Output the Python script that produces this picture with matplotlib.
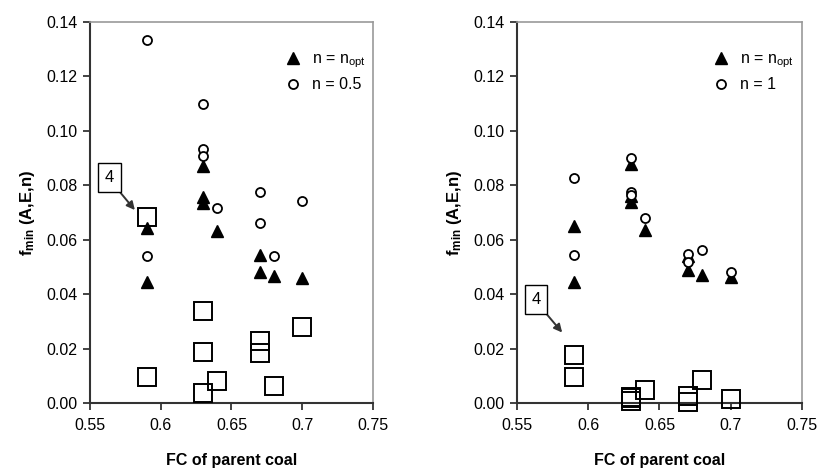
import matplotlib
matplotlib.use("Agg")
import matplotlib.pyplot as plt

plt.rcParams['font.family'] = ['Liberation Sans', 'DejaVu Sans']
plt.rcParams['mathtext.fontset'] = 'custom'
plt.rcParams['mathtext.rm'] = 'Liberation Sans'
plt.rcParams['mathtext.bf'] = 'Liberation Sans:bold'
plt.rcParams['mathtext.it'] = 'Liberation Sans:italic'

# ---- data: left panel (n_opt vs n = 0.5) ----
left_opt_x = [0.59, 0.59, 0.63, 0.63, 0.63, 0.64, 0.67, 0.67, 0.68, 0.70]
left_opt_y = [0.0642, 0.0443, 0.0870, 0.0758, 0.0734, 0.0632, 0.0544, 0.0483, 0.0467, 0.0460]
left_alt_x = [0.59, 0.59, 0.63, 0.63, 0.63, 0.64, 0.67, 0.67, 0.68, 0.70]
left_alt_y = [0.1334, 0.0541, 0.1100, 0.0932, 0.0908, 0.0718, 0.0774, 0.0663, 0.0541, 0.0742]
left_sq_x = [0.59, 0.59, 0.63, 0.63, 0.63, 0.64, 0.67, 0.67, 0.68, 0.70]
left_sq_y = [0.0685, 0.0094, 0.0339, 0.0189, 0.0036, 0.0082, 0.0228, 0.0183, 0.0064, 0.0278]

# ---- data: right panel (n_opt vs n = 1) ----
right_opt_x = [0.59, 0.59, 0.63, 0.63, 0.63, 0.64, 0.67, 0.67, 0.68, 0.70]
right_opt_y = [0.0650, 0.0445, 0.0879, 0.0760, 0.0738, 0.0635, 0.0541, 0.0487, 0.0469, 0.0462]
right_alt_x = [0.59, 0.59, 0.63, 0.63, 0.63, 0.64, 0.67, 0.67, 0.68, 0.70]
right_alt_y = [0.0825, 0.0543, 0.0901, 0.0775, 0.0765, 0.0680, 0.0549, 0.0519, 0.0562, 0.0481]
right_sq_x = [0.59, 0.59, 0.63, 0.63, 0.63, 0.64, 0.67, 0.67, 0.68, 0.70]
right_sq_y = [0.0175, 0.0096, 0.0022, 0.0019, 0.0009, 0.0046, 0.0027, 0.0002, 0.0084, 0.0015]

x_ticks = [0.55, 0.6, 0.65, 0.7, 0.75]
x_tick_labels = ['0.55', '0.6', '0.65', '0.7', '0.75']
y_ticks = [0.00, 0.02, 0.04, 0.06, 0.08, 0.10, 0.12, 0.14]
y_tick_labels = ['0.00', '0.02', '0.04', '0.06', '0.08', '0.10', '0.12', '0.14']
legend_labels_left = [r'n = n$_{\mathregular{opt}}$', 'n = 0.5']
legend_labels_right = [r'n = n$_{\mathregular{opt}}$', 'n = 1']
xlabel = 'FC of parent coal'
ylabel = r'$\mathbf{f_{min}}$ (A,E,n)'

fig = plt.figure(figsize=(8.2, 4.75), dpi=100)
ax1 = fig.add_axes([90/820, 72/475, 283/820, 381/475])
ax2 = fig.add_axes([517/820, 72/475, 285/820, 381/475])

panels = [
    (ax1, left_opt_x, left_opt_y, left_alt_x, left_alt_y, left_sq_x, left_sq_y,
     legend_labels_left, (0.5637, 0.0829), (0.5817, 0.0709)),
    (ax2, right_opt_x, right_opt_y, right_alt_x, right_alt_y, right_sq_x, right_sq_y,
     legend_labels_right, (0.5634, 0.0380), (0.5817, 0.0259)),
]

for ax, ox, oy, ax_, ay, sx, sy, labs, txy, axy in panels:
    ax.plot(sx, sy, linestyle='none', marker='s', markersize=12.5,
            markerfacecolor='none', markeredgecolor='black', markeredgewidth=1.4,
            clip_on=False, zorder=3)
    h1, = ax.plot(ox, oy, linestyle='none', marker='^', markersize=8.5,
                  color='black', clip_on=False, zorder=4)
    h2, = ax.plot(ax_, ay, linestyle='none', marker='o', markersize=6.5,
                  markerfacecolor='white', markeredgecolor='black', markeredgewidth=1.3,
                  clip_on=False, zorder=5)
    ax.set_xlim(0.55, 0.75)
    ax.set_ylim(0.0, 0.14)
    ax.set_xticks(x_ticks)
    ax.set_xticklabels(x_tick_labels)
    ax.set_yticks(y_ticks)
    ax.set_yticklabels(y_tick_labels)
    ax.tick_params(axis='both', direction='out', length=5, width=1.2,
                   labelsize=11.5, color='#222222', pad=4)
    ax.tick_params(axis='x', pad=6)
    for s in ['left', 'bottom']:
        ax.spines[s].set_color('#333333')
        ax.spines[s].set_linewidth(1.5)
    for s in ['top', 'right']:
        ax.spines[s].set_color('#999999')
        ax.spines[s].set_linewidth(1.2)
    ax.set_xlabel(xlabel, fontsize=11.5, fontweight='bold', labelpad=14)
    ax.set_ylabel(ylabel, fontsize=12, fontweight='bold', labelpad=7)
    ax.legend([h1, h2], labs, loc='upper left', bbox_to_anchor=(0.66, 0.94),
              frameon=False, fontsize=11.5, handletextpad=0.6,
              labelspacing=0.45, borderaxespad=0.0, handlelength=1.2)
    ax.annotate('4', xy=axy, xytext=txy, fontsize=12, ha='center', va='center',
                bbox=dict(boxstyle='square,pad=0.4', facecolor='white',
                          edgecolor='black', linewidth=1.0),
                arrowprops=dict(arrowstyle='-|>', color='#333333', lw=1.4,
                                mutation_scale=12, relpos=(1.0, 0.0),
                                shrinkA=0, shrinkB=0),
                zorder=6)

fig.savefig('out.png', dpi=100)
